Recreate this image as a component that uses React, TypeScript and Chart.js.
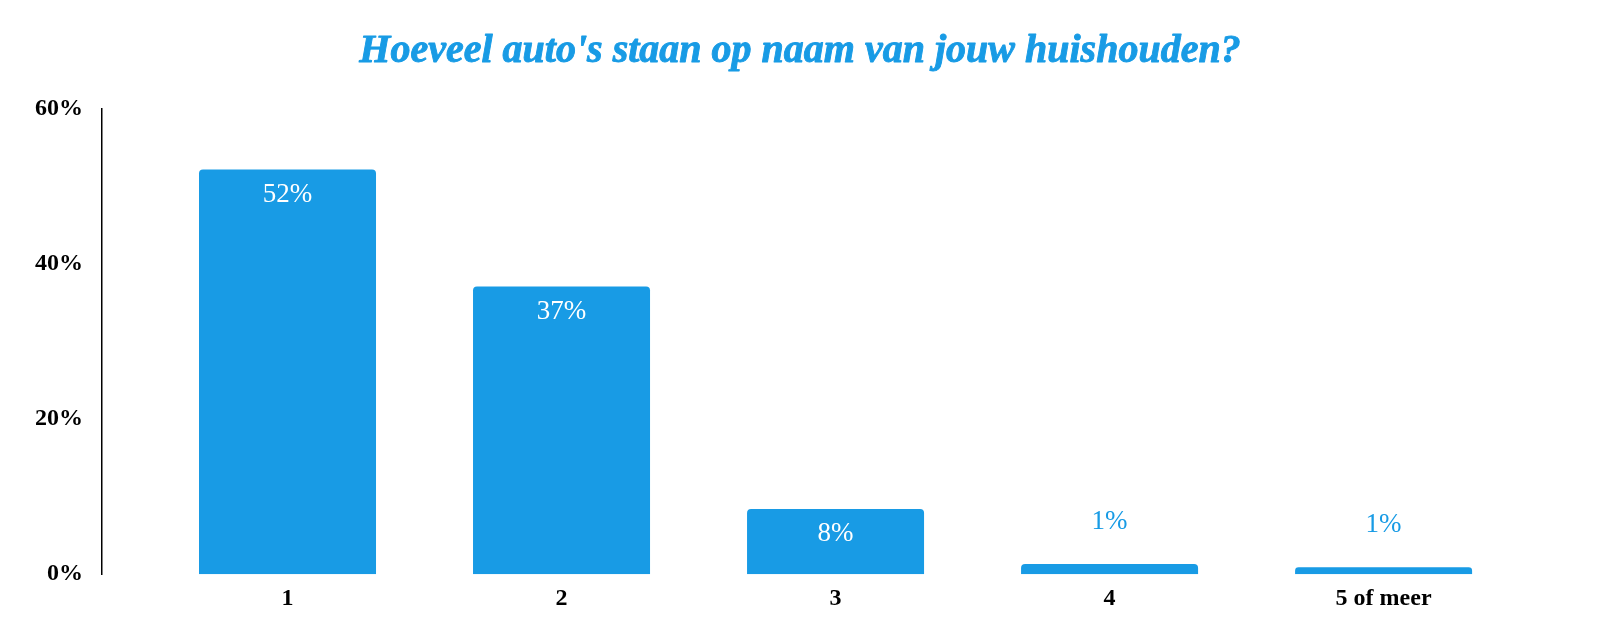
import { useEffect, useRef } from "react"
import { Chart, registerables, Plugin } from "chart.js"

Chart.register(...registerables)

// categories and values (percent of households)
const categories = ["1", "2", "3", "4", "5 of meer"]
const shares = [52.2, 37.1, 8.4, 1.3, 0.9]
const yTicks = [0, 20, 40, 60]
const titleText = "Hoeveel auto's staan op naam van jouw huishouden?"

const BLUE = "#189be5"
const SERIF = "'Liberation Serif', 'Times New Roman', Times, serif"

// draws the value labels: inside the bar when it is tall enough, above it otherwise
const valueLabels: Plugin<"bar"> = {
  id: "valueLabels",
  afterDatasetsDraw(chart) {
    const { ctx } = chart
    const meta = chart.getDatasetMeta(0)
    ctx.save()
    ctx.font = `27px ${SERIF}`
    ctx.textAlign = "center"
    ctx.textBaseline = "middle"
    meta.data.forEach((bar: any, i) => {
      const text = Math.round(shares[i]) + "%"
      const height = bar.base - bar.y
      if (height > 45) {
        ctx.fillStyle = "#fff"
        ctx.fillText(text, bar.x, bar.y + 25)
      } else {
        ctx.fillStyle = BLUE
        ctx.fillText(text, bar.x, bar.y - 42)
      }
    })
    ctx.restore()
  },
}

// bold italic title, centred over the whole canvas; a thin stroke gives it the heavier weight
const serifTitle: Plugin<"bar"> = {
  id: "serifTitle",
  afterDraw(chart) {
    const { ctx, width } = chart
    ctx.save()
    ctx.font = `italic bold 40px ${SERIF}`
    ctx.textAlign = "center"
    ctx.textBaseline = "middle"
    ctx.fillStyle = BLUE
    ctx.strokeStyle = BLUE
    ctx.lineWidth = 0.9
    ctx.lineJoin = "round"
    ctx.fillText(titleText, width / 2, 52)
    ctx.strokeText(titleText, width / 2, 52)
    ctx.restore()
  },
}

export default function App() {
  const chartRef = useRef<HTMLCanvasElement>(null)
  const chartInstance = useRef<Chart | null>(null)

  useEffect(() => {
    document.body.style.margin = "0"
    if (!chartRef.current) return
    if (chartInstance.current) chartInstance.current.destroy()

    const ctx = chartRef.current.getContext("2d")
    if (!ctx) return

    Chart.defaults.font.family = SERIF

    chartInstance.current = new Chart(ctx, {
      type: "bar",
      data: {
        datasets: [
          {
            data: shares.map((v, i) => ({ x: i, y: v })),
            backgroundColor: BLUE,
            borderRadius: 4,
            borderSkipped: "start",
            categoryPercentage: 0.646,
            barPercentage: 1,
          },
        ],
      },
      options: {
        animation: false,
        responsive: true,
        maintainAspectRatio: false,
        layout: { padding: { left: 0, right: 52, top: 109, bottom: 19 } },
        plugins: {
          legend: { display: false },
          tooltip: { enabled: false },
          title: { display: false },
        },
        scales: {
          x: {
            type: "linear",
            offset: false,
            min: -0.677,
            max: 4.6,
            grid: { display: false, drawTicks: false },
            border: { display: false },
            afterBuildTicks: (scale) => {
              scale.ticks = categories.map((_, i) => ({ value: i }))
            },
            ticks: {
              color: "#000",
              padding: 10,
              font: { size: 24, weight: "bold", family: SERIF },
              callback: (value) => categories[value as number] ?? "",
            },
          },
          y: {
            min: 0,
            max: 60,
            grid: { display: false, drawTicks: false },
            border: { display: true, color: "#000", width: 1.5 },
            afterFit: (scale) => {
              scale.width = 102
            },
            afterBuildTicks: (scale) => {
              scale.ticks = yTicks.map((v) => ({ value: v }))
            },
            ticks: {
              color: "#000",
              padding: 19,
              font: { size: 24, weight: "bold", family: SERIF },
              callback: (value) => value + "%",
            },
          },
        },
      },
      plugins: [valueLabels, serifTitle],
    })

    return () => {
      if (chartInstance.current) {
        chartInstance.current.destroy()
        chartInstance.current = null
      }
    }
  }, [])

  return (
    <div style={{ position: "relative", width: 1600, height: 642 }}>
      <canvas ref={chartRef} />
    </div>
  )
}
